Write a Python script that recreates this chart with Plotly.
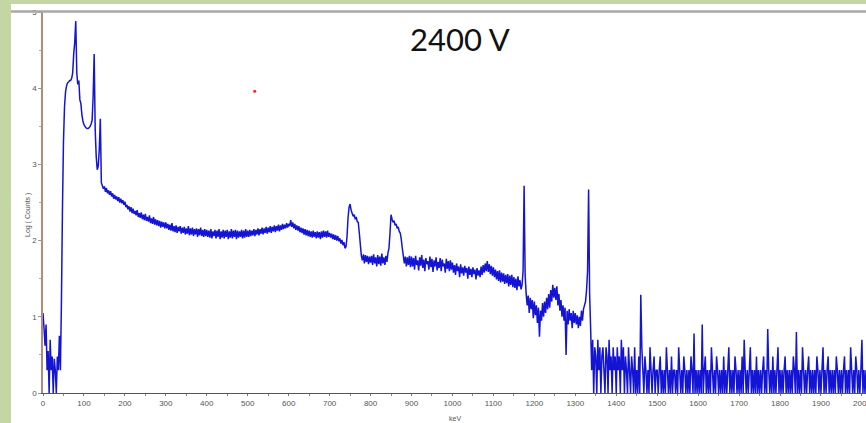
import plotly.graph_objects as go

# Gamma spectrum recorded at 2400 V: log10(counts) per 2.5 keV channel
KEV_PER_CHANNEL = 2.5

# 0 - 197.5 keV: noise floor, backscatter / X-ray region
low_energy = [
    1.05, 0.85, 0.62, 0.90, 0.30, 0.55, 0.00, 0.70, 0.30, 0.48,
    0.00, 0.45, 0.30, 0.00, 0.48, 0.30, 0.75, 0.30, 1.20, 2.40,
    3.30, 3.75, 3.95, 4.03, 4.07, 4.08, 4.10, 4.10, 4.13, 4.20,
    4.45, 4.60, 4.88, 4.20, 4.05, 4.10, 3.85, 3.80, 3.65, 3.57,
    3.52, 3.50, 3.48, 3.47, 3.47, 3.48, 3.50, 3.53, 3.58, 3.90,
    4.45, 3.45, 3.10, 2.93, 2.98, 3.20, 3.60, 2.76, 2.72, 2.68,
    2.71, 2.64, 2.69, 2.62, 2.66, 2.60, 2.65, 2.58, 2.62, 2.55,
    2.60, 2.54, 2.58, 2.52, 2.57, 2.50, 2.55, 2.49, 2.53, 2.47,
]

# 200 - 697.5 keV: Compton continuum
continuum = [
    2.51, 2.44, 2.47, 2.41, 2.45, 2.38, 2.44, 2.36, 2.42, 2.35,
    2.39, 2.33, 2.40, 2.31, 2.36, 2.30, 2.37, 2.28, 2.34, 2.27,
    2.35, 2.26, 2.31, 2.25, 2.33, 2.23, 2.29, 2.22, 2.31, 2.21,
    2.28, 2.20, 2.27, 2.19, 2.26, 2.17, 2.25, 2.18, 2.24, 2.16,
    2.24, 2.16, 2.22, 2.14, 2.21, 2.13, 2.23, 2.12, 2.19, 2.11,
    2.20, 2.10, 2.18, 2.12, 2.19, 2.09, 2.17, 2.10, 2.18, 2.08,
    2.16, 2.09, 2.19, 2.07, 2.16, 2.08, 2.17, 2.06, 2.15, 2.08,
    2.16, 2.05, 2.15, 2.07, 2.17, 2.06, 2.14, 2.05, 2.15, 2.06,
    2.14, 2.05, 2.13, 2.04, 2.15, 2.03, 2.12, 2.06, 2.14, 2.03,
    2.13, 2.05, 2.15, 2.02, 2.12, 2.04, 2.14, 2.03, 2.13, 2.05,
    2.14, 2.02, 2.12, 2.04, 2.15, 2.03, 2.13, 2.05, 2.14, 2.02,
    2.13, 2.04, 2.12, 2.05, 2.14, 2.03, 2.13, 2.04, 2.15, 2.05,
    2.13, 2.05, 2.14, 2.06, 2.13, 2.07, 2.15, 2.06, 2.14, 2.08,
    2.16, 2.07, 2.15, 2.09, 2.17, 2.08, 2.16, 2.10, 2.18, 2.09,
    2.17, 2.11, 2.19, 2.10, 2.18, 2.12, 2.20, 2.11, 2.19, 2.13,
    2.21, 2.12, 2.20, 2.14, 2.22, 2.15, 2.21, 2.16, 2.23, 2.17,
    2.22, 2.19, 2.27, 2.18, 2.24, 2.16, 2.22, 2.14, 2.20, 2.13,
    2.19, 2.11, 2.17, 2.10, 2.16, 2.08, 2.15, 2.07, 2.14, 2.06,
    2.13, 2.05, 2.12, 2.04, 2.13, 2.05, 2.11, 2.03, 2.12, 2.04,
    2.11, 2.02, 2.12, 2.04, 2.13, 2.05, 2.12, 2.04, 2.13, 2.05,
]

# 700 - 1397.5 keV: Compton edges and the 1173 / 1332 keV photopeaks
photopeaks = [
    2.10, 2.04, 2.09, 2.02, 2.08, 2.01, 2.07, 2.00, 2.06, 1.99,
    2.03, 1.96, 2.01, 1.94, 1.98, 1.90, 1.92, 2.05, 2.30, 2.44,
    2.48, 2.40, 2.36, 2.32, 2.34, 2.28, 2.31, 2.25, 2.24, 2.10,
    1.95, 1.80, 1.74, 1.82, 1.70, 1.81, 1.72, 1.80, 1.69, 1.79,
    1.71, 1.80, 1.68, 1.82, 1.70, 1.78, 1.66, 1.81, 1.69, 1.79,
    1.67, 1.83, 1.70, 1.78, 1.68, 1.80, 1.72, 1.84, 1.90, 2.10,
    2.34, 2.28, 2.24, 2.26, 2.20, 2.22, 2.16, 2.18, 2.12, 2.10,
    2.02, 1.90, 1.80, 1.70, 1.79, 1.66, 1.78, 1.68, 1.80, 1.65,
    1.79, 1.66, 1.77, 1.62, 1.80, 1.68, 1.74, 1.61, 1.78, 1.67,
    1.81, 1.64, 1.75, 1.60, 1.77, 1.69, 1.73, 1.62, 1.79, 1.65,
    1.76, 1.59, 1.74, 1.66, 1.78, 1.61, 1.72, 1.64, 1.77, 1.60,
    1.75, 1.66, 1.70, 1.58, 1.76, 1.63, 1.73, 1.60, 1.74, 1.62,
    1.71, 1.58, 1.68, 1.55, 1.70, 1.60, 1.66, 1.52, 1.69, 1.57,
    1.65, 1.54, 1.67, 1.58, 1.64, 1.50, 1.66, 1.55, 1.63, 1.52,
    1.65, 1.56, 1.62, 1.49, 1.64, 1.54, 1.61, 1.52, 1.66, 1.55,
    1.68, 1.58, 1.70, 1.60, 1.73, 1.59, 1.69, 1.56, 1.67, 1.54,
    1.65, 1.52, 1.62, 1.49, 1.60, 1.47, 1.61, 1.45, 1.58, 1.46,
    1.57, 1.43, 1.55, 1.44, 1.56, 1.40, 1.54, 1.42, 1.55, 1.39,
    1.52, 1.38, 1.50, 1.35, 1.53, 1.40, 1.48, 1.36, 1.42, 1.60,
    2.72, 1.55, 1.30, 1.15, 1.28, 1.05, 1.25, 1.10, 1.22, 0.98,
    1.20, 1.02, 1.15, 0.92, 1.12, 0.74, 1.08, 0.95, 1.18, 1.00,
    1.20, 1.05, 1.25, 1.10, 1.30, 1.12, 1.35, 1.20, 1.42, 1.25,
    1.38, 1.22, 1.40, 1.15, 1.30, 1.08, 1.22, 1.00, 1.15, 0.95,
    1.12, 0.50, 1.08, 0.90, 1.10, 0.95, 1.05, 0.85, 1.08, 0.92,
    1.05, 0.90, 1.02, 0.85, 1.00, 0.88, 1.08, 0.95, 1.10, 1.15,
    1.20, 1.35, 1.60, 2.67, 1.30, 0.85, 0.30, 0.70, 0.00, 0.60,
    0.48, 0.00, 0.70, 0.30, 0.60, 0.00, 0.48, 0.60, 0.30, 0.00,
    0.60, 0.48, 0.00, 0.70, 0.30, 0.48, 0.00, 0.60, 0.30, 0.48,
]

# 1400 - 2010 keV: sparse high-energy tail incl. the 1460 keV line
high_energy = [
    0.00, 0.60, 0.30, 0.48, 0.00, 0.70, 0.30, 0.60, 0.00, 0.48,
    0.30, 0.00, 0.60, 0.30, 0.00, 0.48, 0.30, 0.00, 0.60, 0.00,
    0.30, 0.00, 0.48, 0.00, 1.29, 0.60, 0.30, 0.00, 0.48, 0.30,
    0.00, 0.30, 0.00, 0.60, 0.30, 0.00, 0.30, 0.48, 0.00, 0.30,
    0.30, 0.00, 0.30, 0.48, 0.00, 0.30, 0.00, 0.30, 0.00, 0.60,
    0.30, 0.00, 0.30, 0.00, 0.48, 0.00, 0.30, 0.30, 0.00, 0.30,
    0.00, 0.60, 0.30, 0.00, 0.30, 0.00, 0.48, 0.30, 0.00, 0.30,
    0.00, 0.30, 0.00, 0.48, 0.30, 0.00, 0.78, 0.00, 0.30, 0.00,
    0.30, 0.00, 0.30, 0.00, 0.90, 0.00, 0.30, 0.48, 0.00, 0.30,
    0.00, 0.30, 0.00, 0.60, 0.30, 0.00, 0.30, 0.00, 0.48, 0.30,
    0.00, 0.30, 0.00, 0.30, 0.00, 0.48, 0.00, 0.30, 0.00, 0.30,
    0.60, 0.00, 0.30, 0.00, 0.30, 0.00, 0.48, 0.30, 0.00, 0.30,
    0.00, 0.30, 0.00, 0.48, 0.00, 0.70, 0.30, 0.00, 0.30, 0.00,
    0.30, 0.60, 0.00, 0.30, 0.00, 0.30, 0.00, 0.48, 0.00, 0.30,
    0.00, 0.30, 0.00, 0.30, 0.48, 0.00, 0.30, 0.00, 0.84, 0.30,
    0.00, 0.30, 0.00, 0.48, 0.00, 0.30, 0.00, 0.30, 0.60, 0.00,
    0.30, 0.00, 0.30, 0.00, 0.30, 0.48, 0.00, 0.30, 0.00, 0.30,
    0.00, 0.30, 0.00, 0.48, 0.30, 0.00, 0.80, 0.00, 0.30, 0.00,
    0.30, 0.00, 0.60, 0.30, 0.00, 0.30, 0.00, 0.30, 0.48, 0.00,
    0.30, 0.00, 0.30, 0.00, 0.30, 0.00, 0.48, 0.30, 0.00, 0.30,
    0.00, 0.30, 0.60, 0.00, 0.30, 0.00, 0.30, 0.48, 0.00, 0.30,
    0.00, 0.30, 0.00, 0.30, 0.00, 0.48, 0.30, 0.00, 0.30, 0.00,
    0.30, 0.00, 0.30, 0.48, 0.00, 0.30, 0.00, 0.30, 0.00, 0.60,
    0.30, 0.00, 0.30, 0.00, 0.48, 0.30, 0.00, 0.30, 0.00, 0.30,
    0.70, 0.00, 0.30, 0.00, 0.30,
]

log_counts = low_energy + continuum + photopeaks + high_energy
energy_kev = [i * KEV_PER_CHANNEL for i in range(len(log_counts))]

# cursor position shown in the analyser window
cursor_kev = [517]
cursor_log = [3.96]

x_ticks = list(range(0, 2001, 100))
y_ticks = [0, 1, 2, 3, 4, 5]

GREEN = "#c4d6a4"
BLUE = "#1414d4"

fig = go.Figure()
fig.add_trace(go.Scatter(
    x=energy_kev, y=log_counts, mode="lines",
    line=dict(color=BLUE, width=1.5, shape="linear", simplify=False),
    hoverinfo="skip", showlegend=False,
))
fig.add_trace(go.Scatter(
    x=cursor_kev, y=cursor_log, mode="markers",
    marker=dict(color="#ff2020", size=3), showlegend=False,
))

L, T, B = 43, 12, 30
W, H = 866, 423
pw, ph = W - L, H - T - B


def px_x(p):
    return (p - L) / pw


def px_y(p):
    return (H - B - p) / ph


fig.update_layout(
    width=W, height=H,
    margin=dict(l=L, r=0, t=T, b=B, autoexpand=False),
    paper_bgcolor=GREEN,
    plot_bgcolor="white",
    shapes=[
        dict(type="rect", xref="paper", yref="paper", layer="below",
             x0=px_x(11), x1=px_x(W + 5), y0=px_y(H + 5), y1=px_y(4),
             fillcolor="white", line=dict(width=0)),
        dict(type="line", xref="paper", yref="paper",
             x0=px_x(11), x1=px_x(W + 5), y0=px_y(11.5), y1=px_y(11.5),
             line=dict(color="#a8a8a8", width=2.5)),
    ],
    xaxis=dict(
        range=[0, 2010], tickvals=x_ticks, ticktext=[str(v) for v in x_ticks],
        showgrid=False, zeroline=False, ticklabeloverflow="allow", automargin=False,
        showline=True, linecolor="#555555", linewidth=1,
        ticks="outside", ticklen=2, tickcolor="#777777",
        minor=dict(dtick=50, ticks="outside", ticklen=2, tickcolor="#888888"),
        tickfont=dict(family="Liberation Sans, Arial", size=8, color="#555555"),
    ),
    yaxis=dict(
        range=[0, 5], tickvals=y_ticks, ticktext=[str(v) for v in y_ticks],
        showgrid=False, zeroline=False, automargin=False,
        showline=True, linecolor="#b58a7a", linewidth=1.5,
        ticks="outside", ticklen=3, tickcolor="#999999",
        minor=dict(dtick=0.5, ticks="outside", ticklen=2, tickcolor="#aaaaaa"),
        tickfont=dict(family="Liberation Sans, Arial", size=8, color="#555555"),
    ),
    annotations=[
        dict(text="2400 V", xref="paper", yref="paper", x=px_x(460), y=px_y(39),
             showarrow=False, xanchor="center", yanchor="middle",
             font=dict(family="Lato, Open Sans", size=31, color="#111111")),
        dict(text="Log ( Counts )", xref="paper", yref="paper", x=px_x(28), y=px_y(215),
             showarrow=False, textangle=-90, xanchor="center", yanchor="middle",
             font=dict(family="Liberation Sans, Arial", size=7, color="#555555")),
        dict(text="keV", xref="paper", yref="paper", x=px_x(455), y=px_y(418),
             showarrow=False, xanchor="center", yanchor="middle",
             font=dict(family="Liberation Sans, Arial", size=7, color="#555555")),
    ],
)

fig.write_html("out.html")
